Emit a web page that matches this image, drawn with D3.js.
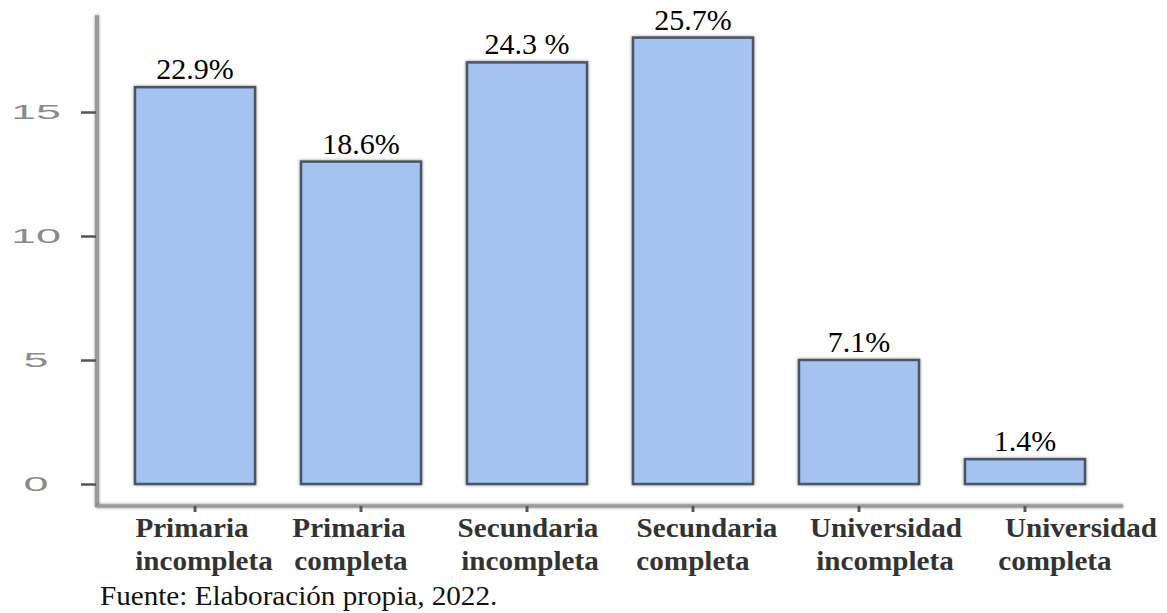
<!DOCTYPE html>
<html><head><meta charset="utf-8">
<script src="https://cdn.jsdelivr.net/npm/d3@7"></script>
<style>body{margin:0;background:#fff}svg{display:block}</style>
</head><body>
<svg id="c" width="1167" height="613"></svg>
<script>
// ---- data ----
const categories = ["Primaria incompleta","Primaria completa","Secundaria incompleta","Secundaria completa","Universidad incompleta","Universidad completa"];
const counts = [16, 13, 17, 18, 5, 1];
const percentLabels = ["22.9%","18.6%","24.3 %","25.7%","7.1%","1.4%"];
const yTicks = [0, 5, 10, 15];
const sourceNote = "Fuente: Elaboración propia, 2022.";

// ---- layout ----
const SERIF = "'Liberation Serif'", SANS = "'Liberation Sans'";
const plotLeft = 97, plotRight = 1123, xAxisY = 506;
const yAxisTopValue = 18.9;
// horizontal nudges of the two category label lines (layout only)
const line1Nudge = [-3, -12, 1, 14, 27, 56];
const line2Nudge = [9, -10, 3, 0, 26, 30];

const svg = d3.select("#c");
const defs = svg.append("defs");
const f = defs.append("filter").attr("id","sh").attr("filterUnits","userSpaceOnUse")
  .attr("x",0).attr("y",0).attr("width",1167).attr("height",613);
f.append("feDropShadow").attr("dx",0).attr("dy",0).attr("stdDeviation",1.4).attr("flood-color","#000").attr("flood-opacity",0.45);

const x = d3.scaleBand().domain(categories).range([plotLeft, plotRight]).paddingInner(0.277).paddingOuter(0.229);
const y = d3.scaleLinear().domain([0, 15]).range([484, 112]);

// axis lines
svg.append("line").attr("x1", plotLeft).attr("x2", plotLeft).attr("y1", y(yAxisTopValue)).attr("y2", xAxisY + 1)
  .attr("stroke", "#9a9a9a").attr("stroke-width", 4).attr("filter","url(#sh)");
svg.append("line").attr("x1", plotLeft).attr("x2", plotRight).attr("y1", xAxisY).attr("y2", xAxisY)
  .attr("stroke", "#9a9a9a").attr("stroke-width", 3.5).attr("filter","url(#sh)");

// y axis ticks via d3 axis
const yAxis = svg.append("g").attr("transform", `translate(${plotLeft - 1},0)`)
  .call(d3.axisLeft(y).tickValues(yTicks).tickSize(15).tickSizeOuter(0).tickFormat(""));
yAxis.select(".domain").remove();
yAxis.selectAll(".tick line").attr("stroke", "#555").attr("stroke-width", 2.5);

// y tick labels (wide, gray sans)
svg.append("g").selectAll("text").data(yTicks).join("text")
  .attr("transform", d => `translate(36,${y(d) + 7}) scale(2.3,1)`)
  .attr("text-anchor", "middle")
  .style("font-family", SANS)
  .attr("font-size", 19.5)
  .attr("fill", "#8a8a8a")
  .text(d => d);

// x ticks
const xAxis = svg.append("g").attr("transform", `translate(0,${xAxisY})`)
  .call(d3.axisBottom(x).tickSize(6).tickSizeOuter(0).tickFormat(""));
xAxis.select(".domain").remove();
xAxis.selectAll(".tick line").attr("stroke", "#555").attr("stroke-width", 3);

// bars
svg.append("g").selectAll("rect").data(categories).join("rect")
  .attr("x", d => x(d))
  .attr("y", (d, i) => y(counts[i]))
  .attr("width", x.bandwidth())
  .attr("height", (d, i) => y(0) - y(counts[i]))
  .attr("fill", "#a5c3f1")
  .attr("stroke", "#4c5563")
  .attr("stroke-width", 2.5)
  .attr("filter", "url(#sh)");

// percent labels
svg.append("g").selectAll("text").data(categories).join("text")
  .attr("x", d => x(d) + x.bandwidth() / 2)
  .attr("y", (d, i) => y(counts[i]) - 8)
  .attr("text-anchor", "middle")
  .style("font-family", SERIF)
  .attr("font-size", 30)
  .attr("fill", "#000")
  .text((d, i) => percentLabels[i]);

// category labels (two lines)
const lab = svg.append("g");
categories.forEach((c, i) => {
  const sp = c.indexOf(" ");
  const lines = [c.slice(0, sp), c.slice(sp + 1)];
  const cx = x(c) + x.bandwidth() / 2;
  [[lines[0], line1Nudge[i], 537], [lines[1], line2Nudge[i], 570]].forEach(([t, dx, ty]) => {
    lab.append("text").attr("transform", `translate(${cx + dx},${ty}) scale(1.1,1)`)
      .attr("text-anchor", "middle")
      .style("font-family", SERIF).style("font-weight", "bold")
      .attr("font-size", 26.5).attr("fill", "#333")
      .text(t);
  });
});

// source note
svg.append("text").attr("transform", "translate(100,605) scale(1.1,1)")
  .style("font-family", SERIF)
  .attr("font-size", 26.5).attr("fill", "#111")
  .text(sourceNote);
</script>
</body></html>
